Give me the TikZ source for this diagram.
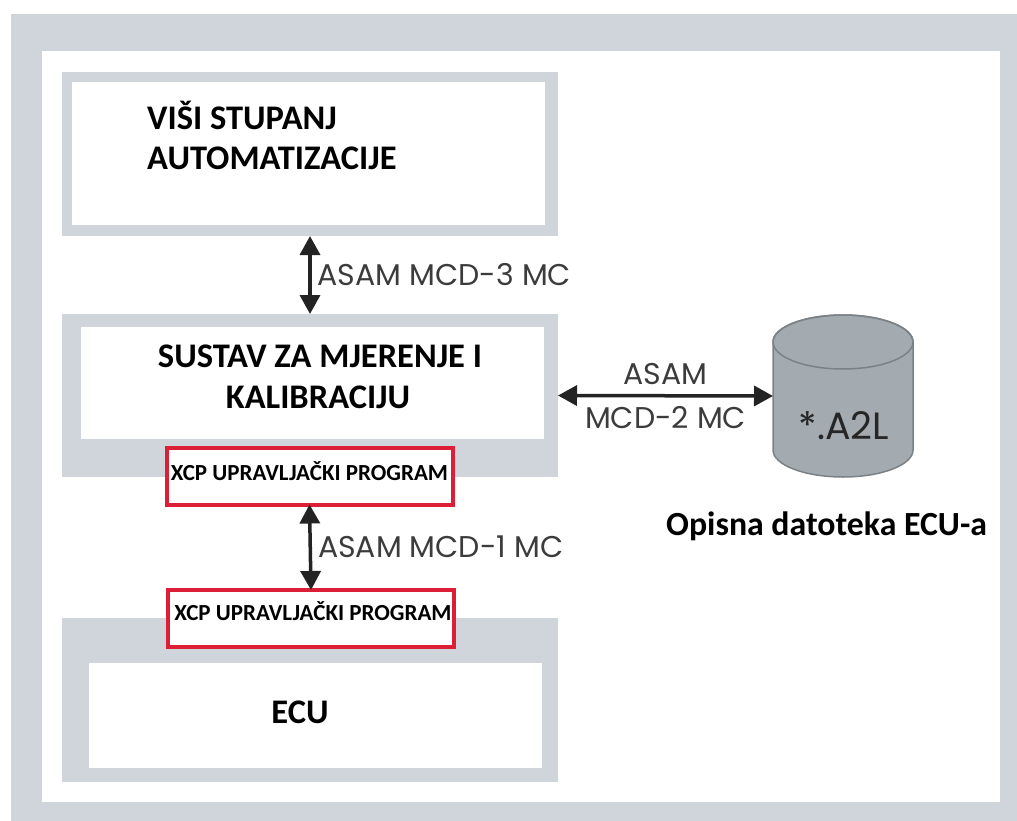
\documentclass[tikz,border=0pt]{standalone}
\usepackage{fontspec}
\setmainfont{Carlito}
\newfontfamily\asamfont{Poppins}
\usetikzlibrary{arrows.meta}

\definecolor{framegray}{RGB}{208,213,219}
\definecolor{xcpred}{RGB}{220,30,55}
\definecolor{cylgray}{RGB}{163,170,176}
\definecolor{cylline}{RGB}{122,130,136}
\definecolor{asamgray}{RGB}{60,60,60}
\definecolor{arrowblack}{RGB}{35,35,35}

\begin{document}
\begin{tikzpicture}[x=1pt,y=-1pt]
%%%%%%%%%%%%%%%%%%%%%%%%%%%%%%%%%%%%%%%%%%%%%%%%%%%%%%%%
% STYLE
\tikzstyle{bg}=[rectangle,fill=framegray,inner sep=0,outer sep=0]
\tikzstyle{pane}=[rectangle,fill=white,inner sep=0,outer sep=0]
\tikzstyle{xcp}=[rectangle,draw=xcpred,line width=4pt,fill=white,inner sep=0,outer sep=0,minimum width=286,minimum height=57]
\tikzstyle{title}=[font=\fontsize{34.5}{41}\selectfont\bfseries,inner sep=0]
\tikzstyle{xcptxt}=[font=\fontsize{23}{27}\selectfont\bfseries,inner sep=0]
\tikzstyle{asam}=[font=\asamfont\fontsize{30}{37}\selectfont,text=asamgray,inner sep=2pt]

\tikzset{link/.style={<->,>={Triangle[width=20pt,length=19pt]},line width=3.5pt,draw=arrowblack}}

\useasboundingbox (0,0) rectangle (1017,821);
%%%%%%%%%%%%%%%%%%%%%%%%%%%%%%%%%%%%%%%%%%%%%%%%%%%%%%%%
% NODES
\node[bg,minimum width=1006,minimum height=807] (frameBg) at (514,417.5) {};
\node[pane,minimum width=958,minimum height=751] (frame) at (521,426.5) {};

\node[bg,minimum width=496,minimum height=164] (autoBg) at (310,154) {};
\node[pane,minimum width=473,minimum height=143] (auto) at (308.5,153.5) {};
\node[title,anchor=base west] (autoL1) at (147,130) {VIŠI STUPANJ};
\node[title,anchor=base west] (autoL2) at (147,170) {AUTOMATIZACIJE};

\node[bg,minimum width=496,minimum height=163] (mcBg) at (310,395.5) {};
\node[pane,minimum width=463,minimum height=112] (mc) at (312.5,383) {};
\node[title,anchor=base] (mcL1) at (320,367) {SUSTAV ZA MJERENJE I};
\node[title,anchor=base] (mcL2) at (318,408) {KALIBRACIJU};

\node[bg,minimum width=496,minimum height=164] (ecuBg) at (310,700) {};
\node[pane,minimum width=453,minimum height=105] (ecu) at (315.5,715.5) {};
\node[title,anchor=base] (ecuL) at (300,723) {ECU};

\node[xcp] (xcpA) at (309.5,476) {};
\node[xcptxt,anchor=base] (xcpAL) at (309.5,480) {XCP UPRAVLJAČKI PROGRAM};
\node[xcp] (xcpB) at (311,618.5) {};
\node[xcptxt,anchor=base] (xcpBL) at (313,620) {XCP UPRAVLJAČKI PROGRAM};

% cylinder
\node[minimum width=140,minimum height=162,inner sep=0,outer sep=0] (cyl) at (843,396) {};
\path[fill=cylgray,draw=cylline,line width=1.5pt] (773,342) -- (773,450)
  arc[start angle=180,end angle=0,x radius=70,y radius=27] -- (913,342)
  arc[start angle=360,end angle=180,x radius=70,y radius=27] -- cycle;
\draw[cylline,line width=1.5pt] (843,342) ellipse[x radius=70,y radius=27];
\node[font=\asamfont\fontsize{38}{44}\selectfont,text=black!85,anchor=base] (a2l) at (844,439) {*.A2L};
\node[title,font=\fontsize{33.8}{41}\selectfont\bfseries,anchor=base west] (a2lL) at (666,535) {Opisna datoteka ECU-a};

%%%%%%%%%%%%%%%%%%%%%%%%%%%%%%%%%%%%%%%%%%%%%%%%%%%%%%%%
% LINKS
\draw[link] (autoBg.south) -- (mcBg.north) node[asam,midway,anchor=west,xshift=4pt] (mcd3) {ASAM MCD-3 MC};
\draw[link] (xcpA.south) -- (xcpB.north) node[asam,midway,anchor=west,xshift=4pt] (mcd1) {ASAM MCD-1 MC};
\draw[link] (mcBg.east) -- (cyl.west) node[asam,midway,above,yshift=7pt] (mcd2a) {ASAM} node[asam,midway,below,yshift=-7pt] (mcd2b) {MCD-2 MC};
\end{tikzpicture}
\end{document}
